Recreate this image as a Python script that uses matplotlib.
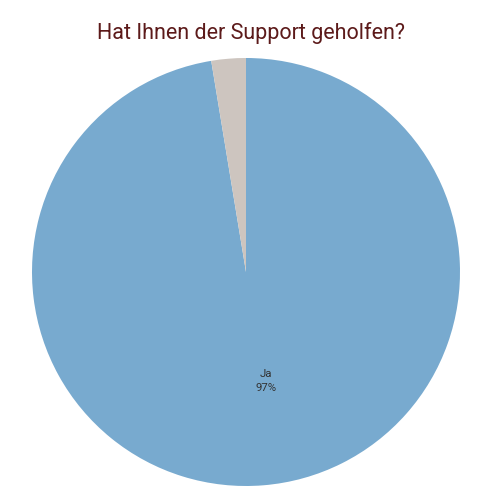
import matplotlib
matplotlib.use("Agg")
import matplotlib.pyplot as plt

categories = ["Ja", "Nein"]
values = [97.4, 2.6]
colors = ["#78aacf", "#cdc5bf"]

fig = plt.figure(figsize=(5, 5), dpi=100)
ax = fig.add_axes([0.064, 0.028, 0.856, 0.856])

labels = [f"{categories[0]}\n{round(values[0])}%", ""]
wedges, texts = ax.pie(values, labels=labels, colors=colors, startangle=90,
                       counterclock=False, labeldistance=0.51,
                       textprops=dict(fontsize=8.2, color="#333333", family="Roboto",
                                      ha="center", va="center", linespacing=1.5))
ax.set_xlim(-1, 1)
ax.set_ylim(-1, 1)
ax.set_aspect("equal")
texts[0].set_x(texts[0].get_position()[0] + 0.05)

fig.text(0.502, 0.935, "Hat Ihnen der Support geholfen?", ha="center", va="center",
         fontsize=15.5, color="#5c1a1a", family="Roboto")

fig.savefig("out.png", dpi=100, facecolor="white")
